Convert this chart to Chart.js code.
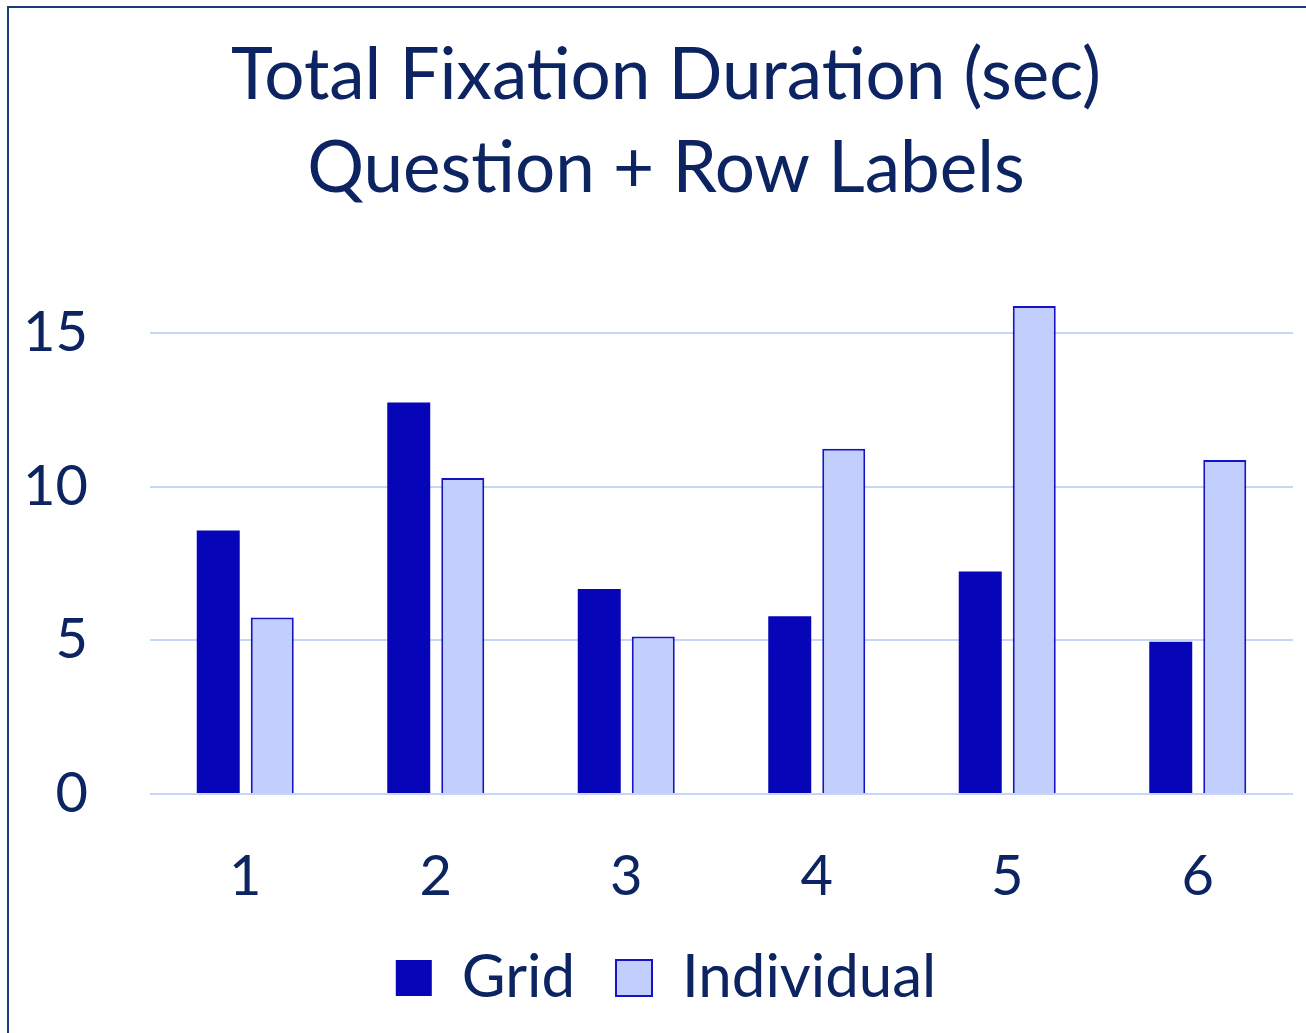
<!DOCTYPE html>
<html>
<head>
<meta charset="utf-8">
<script src="https://cdn.jsdelivr.net/npm/chart.js@4/dist/chart.umd.min.js"></script>
<style>
  html, body { margin: 0; padding: 0; background: #ffffff; overflow: hidden; }
  #page { position: relative; width: 1306px; height: 1033px; overflow: hidden; }
  #frame {
    position: absolute; left: 7px; top: 6px; width: 1318px; height: 1100px;
    border: 2px solid #1e3b78; box-sizing: border-box;
  }
  #chart { position: absolute; left: 0; top: 0; }
</style>
</head>
<body>
<div id="page">
  <div id="frame"></div>
  <canvas id="chart" width="1332" height="1033"></canvas>
</div>
<script>
// Question number on the x axis
const categories = ['1', '2', '3', '4', '5', '6'];
// Total fixation duration in seconds, per layout
const gridValues = [8.57, 12.73, 6.67, 5.78, 7.24, 4.95];
const individualValues = [5.74, 10.28, 5.12, 11.23, 15.87, 10.86];
// Value axis labels
const yTickValues = [0, 5, 10, 15];

const textColor = '#0c2461';
const fontFamily = 'Lato, "Open Sans", "Noto Sans", sans-serif';

// Centre the title and legend on the framed panel rather than on the canvas
const panelCentre = {
  id: 'panelCentre',
  afterLayout(chart, args, opts) {
    [chart.titleBlock, chart.legend].forEach(box => {
      if (!box) return;
      const dx = opts.x - (box.left + box.right) / 2;
      box.left += dx;
      box.right += dx;
    });
  }
};

new Chart(document.getElementById('chart'), {
  type: 'bar',
  data: {
    labels: categories,
    datasets: [
      {
        label: 'Grid',
        data: gridValues,
        backgroundColor: '#0606b8',
        borderColor: '#0606b8',
        borderWidth: 0
      },
      {
        label: 'Individual',
        data: individualValues,
        backgroundColor: '#c2cffd',
        borderColor: '#1414c4',
        borderWidth: 2
      }
    ]
  },
  plugins: [panelCentre],
  options: {
    responsive: false,
    animation: false,
    layout: { padding: { left: 24, right: 39, top: 0, bottom: 15 } },
    datasets: {
      bar: { categoryPercentage: 0.567, barPercentage: 0.796 }
    },
    plugins: {
      panelCentre: { x: 666 },
      title: {
        display: true,
        text: ['Total Fixation Duration (sec)', 'Question + Row Labels'],
        color: textColor,
        font: { family: fontFamily, size: 71, weight: 'normal', lineHeight: 1.31 },
        padding: { top: 30, bottom: 86 }
      },
      legend: {
        display: true,
        position: 'bottom',
        labels: {
          color: textColor,
          font: { family: fontFamily, size: 60 },
          boxWidth: 36,
          boxHeight: 36,
          padding: 41
        }
      },
      tooltip: { enabled: false }
    },
    scales: {
      x: {
        grid: { display: false, drawTicks: false },
        border: { display: false },
        ticks: {
          color: textColor,
          font: { family: fontFamily, size: 56 },
          padding: 49
        },
        afterFit(scale) { scale.height = 113; }
      },
      y: {
        min: 0,
        max: 16,
        grid: { color: '#c6d6f7', lineWidth: 2, drawTicks: false },
        border: { display: false },
        ticks: {
          color: textColor,
          font: { family: fontFamily, size: 56 },
          padding: 62
        },
        afterBuildTicks(scale) {
          scale.ticks = yTickValues.map(v => ({ value: v }));
        },
        afterFit(scale) { scale.width = 126; }
      }
    }
  }
});
</script>
</body>
</html>
